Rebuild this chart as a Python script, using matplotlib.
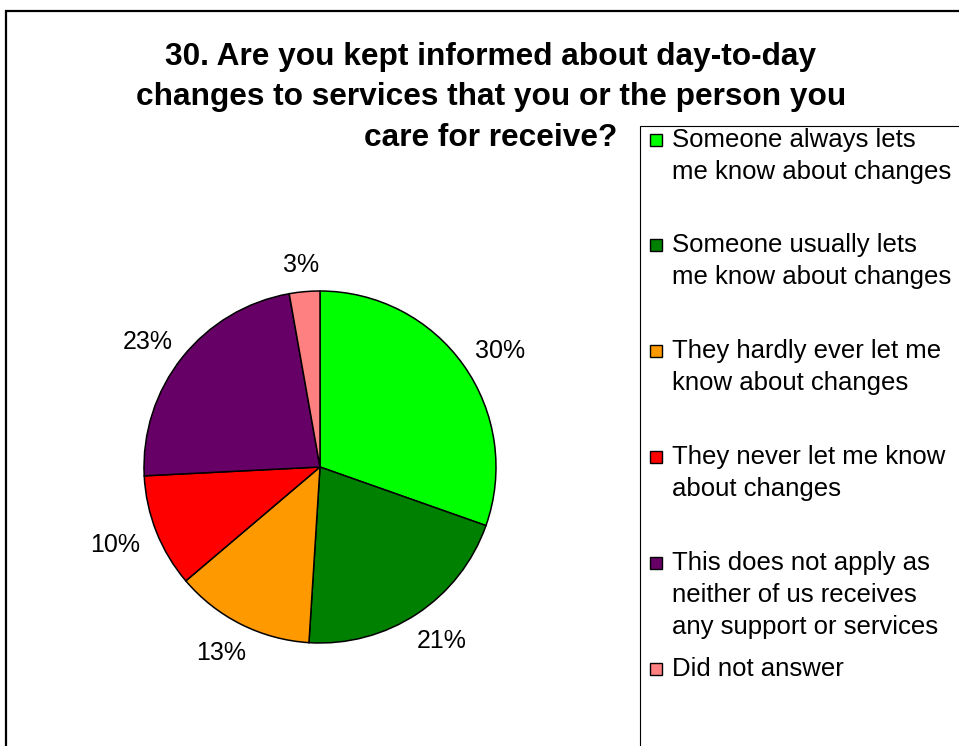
import numpy as np
import matplotlib.pyplot as plt
from matplotlib.patches import Rectangle

# data (shares estimated from the slice edges)
answers = [
    'Someone always lets\nme know about changes',
    'Someone usually lets\nme know about changes',
    'They hardly ever let me\nknow about changes',
    'They never let me know\nabout changes',
    'This does not apply as\nneither of us receives\nany support or services',
    'Did not answer',
]
shares = [30.4, 20.6, 12.8, 10.4, 23.0, 2.8]
colours = ['#00ff00', '#008000', '#ff9900', '#ff0000', '#660066', '#ff8080']
title_lines = ['30. Are you kept informed about day-to-day',
               'changes to services that you or the person you',
               'care for receive?']

W, H = 959, 746
plt.rcParams['font.family'] = ['Liberation Sans', 'DejaVu Sans']

fig = plt.figure(figsize=(W / 100, H / 100), dpi=100)
fig.patch.set_facecolor('white')

def fx(px):
    return px / W

def fy(py):
    return 1 - py / H

# outer chart border (runs off the right and bottom edge)
fig.patches.append(Rectangle((fx(6), fy(1000)), fx(1200), fy(11) - fy(1000),
                             transform=fig.transFigure, fill=False,
                             edgecolor='black', linewidth=1.6, clip_on=False))

# title
for i, line in enumerate(title_lines):
    fig.text(fx(491), fy(65 + i * 40.5), line, ha='center', va='baseline',
             fontsize=22.8, fontweight='bold')

# pie: centre (320, 467) px, radius 176 px
R = 176
half = 200
ax = fig.add_axes([fx(320 - half), fy(467 + half), 2 * half / W, 2 * half / H])
wedges, _ = ax.pie(shares, colors=colours, startangle=90, counterclock=False, radius=1,
                   wedgeprops=dict(edgecolor='black', linewidth=1.1))
ax.set_xlim(-half / R, half / R)
ax.set_ylim(-half / R, half / R)
ax.set_aspect('equal')
ax.axis('off')

# percentage labels just outside each slice (box edge ~20 px off the rim)
for w, s in zip(wedges, shares):
    mid = np.deg2rad((w.theta1 + w.theta2) / 2)
    txt = '%d%%' % round(s)
    tw = 16.5 * len(txt)  # approx text width in px
    th = 19
    px = (R + 20) * np.cos(mid) + tw / 2 * np.cos(mid)
    py = (R + 20) * np.sin(mid) + th / 2 * np.sin(mid)
    ax.text(px / R, py / R, txt, ha='center', va='center_baseline', fontsize=18)

# legend box (also runs off the edge)
fig.patches.append(Rectangle((fx(639.5), fy(1000)), fx(1200), fy(126) - fy(1000),
                             transform=fig.transFigure, fill=False,
                             edgecolor='black', linewidth=0.8, clip_on=False))

for i, (label, col) in enumerate(zip(answers, colours)):
    yc = 139.5 + i * 105.8
    fig.patches.append(Rectangle((fx(650), fy(yc + 6)), fx(12), fy(yc - 6) - fy(yc + 6),
                                 transform=fig.transFigure, facecolor=col,
                                 edgecolor='black', linewidth=1.0))
    for j, line in enumerate(label.split('\n')):
        fig.text(fx(672), fy(yc + j * 32), line, ha='left', va='center',
                 fontsize=18.5)

fig.savefig('out.png', dpi=100, facecolor='white')
